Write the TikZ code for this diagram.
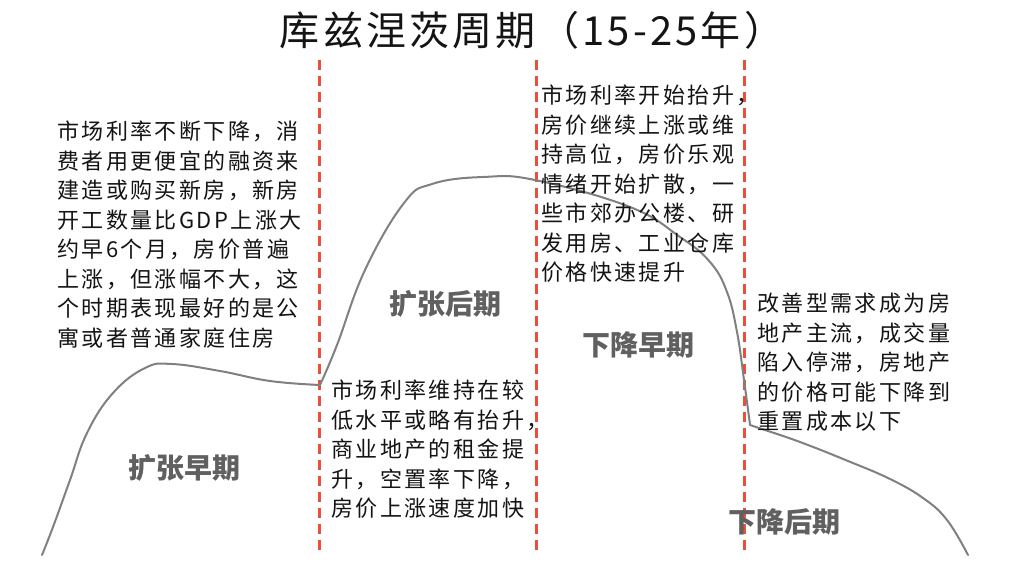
\documentclass[tikz,border=0pt]{standalone}
\usepackage{fontspec}
\newfontfamily\cjkbody[LetterSpace=11]{Noto Sans CJK SC}
\newfontfamily\cjktitle[LetterSpace=8]{Noto Sans CJK SC}
\newfontfamily\cjklabel{Noto Sans CJK SC}
\definecolor{dashred}{RGB}{232,80,60}
\definecolor{curvegray}{RGB}{128,128,128}
\definecolor{labelgray}{RGB}{96,96,96}
\definecolor{textblack}{RGB}{20,20,20}
\tikzset{
  redline/.style={draw=dashred, line width=3pt, dash pattern=on 10pt off 6pt},
  curveline/.style={draw=curvegray, line width=2pt, line cap=round, line join=round},
  bodytext/.style={anchor=north west, inner sep=0pt, align=left, text=textblack,
    font=\cjkbody\fontsize{22}{29.5}\selectfont},
  phaselabel/.style={anchor=center, inner sep=0pt, text=labelgray,
    font=\cjklabel\bfseries\fontsize{28}{30}\selectfont},
  titletext/.style={anchor=center, inner sep=0pt, text=textblack,
    font=\cjktitle\fontsize{40}{44}\selectfont}
}
\begin{document}
\begin{tikzpicture}[x=1pt, y=-1pt]
\useasboundingbox[fill=white] (0,0) rectangle (1024,572);

% title
\node[titletext] (title) at (532,30) {库兹涅茨周期（15-25年）};

% dashed dividers
\coordinate (d1t) at (319,60);  \coordinate (d1b) at (319,556);
\coordinate (d2t) at (536,60);  \coordinate (d2b) at (536,556);
\coordinate (d3t) at (744,60);  \coordinate (d3b) at (744,556);
\draw[redline] (d1t) -- (d1b);
\draw[redline] (d2t) -- (d2b);
\draw[redline] (d3t) -- (d3b);

% curve
\draw[curveline] plot[smooth, tension=0.7] coordinates {
  (42,555) (53,527) (70,480) (87,433) (113,393) (145,368) (172,364)
  (220,371) (270,381) (320,385)};
\draw[curveline] plot[smooth, tension=0.7] coordinates {
  (320,385) (337,345) (365,270) (404,203) (432,184) (483,177) (535,180)
  (630,207) (680,237) (710,262) (727,292) (737,332) (744,380) (750,425)};
\draw[curveline] plot[smooth, tension=0.7] coordinates {
  (750,425) (762,429) (800,442) (848,461) (890,479) (923,498) (947,520) (968,555)};

% phase labels
\node[phaselabel] (p1) at (184,468) {扩张早期};
\node[phaselabel] (p2) at (445,304) {扩张后期};
\node[phaselabel] (p3) at (638,345) {下降早期};
\node[phaselabel] (p4) at (784,522) {下降后期};

% description texts
\node[bodytext] (t1) at (57,121) {市场利率不断下降，消\\费者用更便宜的融资来\\建造或购买新房，新房\\开工数量比GDP上涨大\\约早6个月，房价普遍\\上涨，但涨幅不大，这\\个时期表现最好的是公\\寓或者普通家庭住房};
\node[bodytext] (t2) at (541,85) {市场利率开始抬升，\\房价继续上涨或维\\持高位，房价乐观\\情绪开始扩散，一\\些市郊办公楼、研\\发用房、工业仓库\\价格快速提升};
\node[bodytext] (t3) at (331,380) {市场利率维持在较\\低水平或略有抬升，\\商业地产的租金提\\升，空置率下降，\\房价上涨速度加快};
\node[bodytext] (t4) at (757,293) {改善型需求成为房\\地产主流，成交量\\陷入停滞，房地产\\的价格可能下降到\\重置成本以下};
\end{tikzpicture}
\end{document}
